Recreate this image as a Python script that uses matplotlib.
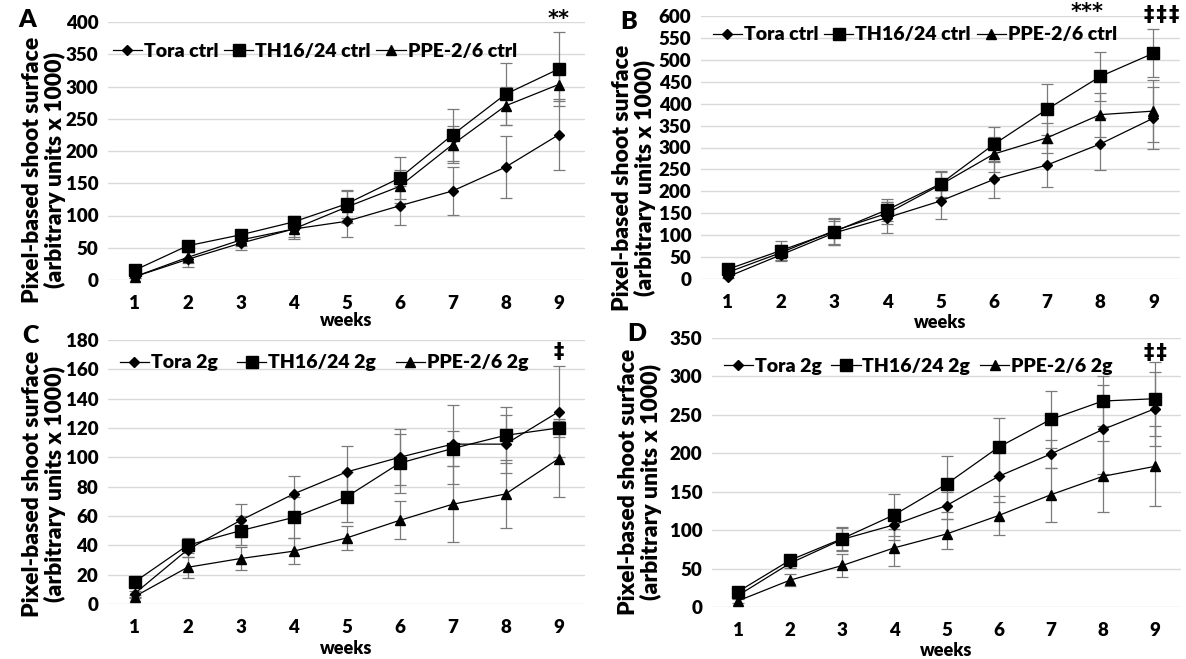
import matplotlib
matplotlib.use("Agg")
import matplotlib.pyplot as plt
import numpy as np

plt.rcParams["font.family"] = ["Lato", "DejaVu Sans"]
plt.rcParams["font.weight"] = "bold"

weeks = np.arange(1, 10)

# Panel A: controls
a_tora = [5, 32, 57, 79, 91, 115, 138, 175, 225]
a_tora_err = [2, 12, 10, 15, 25, 30, 37, 48, 55]
a_th = [15, 53, 70, 90, 118, 158, 225, 288, 327]
a_th_err = [3, 5, 8, 10, 22, 32, 40, 48, 58]
a_ppe = [5, 35, 62, 79, 113, 145, 210, 270, 303]
a_ppe_err = [2, 8, 10, 12, 25, 25, 28, 30, 25]

# Panel B: controls
b_tora = [5, 55, 105, 140, 178, 227, 260, 308, 367]
b_tora_err = [3, 12, 28, 35, 40, 42, 50, 60, 70]
b_th = [22, 65, 108, 158, 217, 307, 387, 462, 515]
b_th_err = [5, 22, 30, 25, 30, 40, 58, 55, 55]
b_ppe = [15, 60, 110, 150, 215, 285, 322, 375, 383]
b_ppe_err = [4, 18, 30, 25, 30, 40, 35, 50, 70]

# Panel C: 2g
c_tora = [7, 37, 57, 75, 90, 100, 109, 109, 131]
c_tora_err = [2, 5, 11, 12, 18, 19, 27, 20, 31]
c_th = [15, 40, 50, 59, 73, 96, 106, 115, 120]
c_th_err = [2, 5, 10, 14, 17, 20, 12, 19, 6]
c_ppe = [5, 25, 31, 36, 45, 57, 68, 75, 99]
c_ppe_err = [1, 7, 8, 9, 8, 13, 26, 23, 26]

# Panel D: 2g
d_tora = [15, 57, 88, 107, 132, 170, 199, 231, 258]
d_tora_err = [3, 6, 15, 20, 18, 34, 18, 58, 48]
d_th = [20, 61, 89, 120, 160, 208, 244, 268, 271]
d_th_err = [3, 7, 15, 27, 37, 38, 37, 33, 48]
d_ppe = [8, 35, 54, 77, 95, 119, 146, 170, 183]
d_ppe_err = [3, 8, 15, 24, 19, 25, 35, 46, 52]

ctrl_names = ["Tora ctrl", "TH16/24 ctrl", "PPE-2/6 ctrl"]
g2_names = ["Tora 2g", "TH16/24 2g", "PPE-2/6 2g"]

W, H = 1186, 659
fig = plt.figure(figsize=(W / 100, H / 100), dpi=100)


def px_axes(left, right, top, bottom):
    return fig.add_axes([left / W, 1 - bottom / H, (right - left) / W, (bottom - top) / H])


DD = "\u2021"
HS = "\u200a"  # hair space so the daggers do not run together

# significance notes: (text, x in data, y in data)
panels = [
    dict(box=(108, 585, 22, 280), ymax=400, step=50, names=ctrl_names,
         data=[(a_tora, a_tora_err), (a_th, a_th_err), (a_ppe, a_ppe_err)],
         letter="A", lpos=(18, 20),
         notes=[("**", 9, 404)],
         ylab=(44, 170), weeks_y=321, leg=(-0.015, 0.965), colsp=0.3),
    dict(box=(701, 1180, 16, 279), ymax=600, step=50, names=ctrl_names,
         data=[(b_tora, b_tora_err), (b_th, b_th_err), (b_ppe, b_ppe_err)],
         letter="B", lpos=(620, 22),
         notes=[("***", 7.75, 608), (HS.join([DD] * 3), 9.15, 602)],
         ylab=(634, 178), weeks_y=323, leg=(-0.0, 1.005), colsp=0.3),
    dict(box=(108, 585, 340, 604), ymax=180, step=20, names=g2_names,
         data=[(c_tora, c_tora_err), (c_th, c_th_err), (c_ppe, c_ppe_err)],
         letter="C", lpos=(22, 336),
         notes=[(DD, 9, 172)],
         ylab=(44, 484), weeks_y=648, leg=(0.0, 0.99), colsp=1.0),
    dict(box=(712, 1181, 338, 607), ymax=350, step=50, names=g2_names,
         data=[(d_tora, d_tora_err), (d_th, d_th_err), (d_ppe, d_ppe_err)],
         letter="D", lpos=(627, 334),
         notes=[(HS.join([DD] * 2), 9, 331)],
         ylab=(640, 482), weeks_y=650, leg=(0.0, 0.97), colsp=0.5),
]

markers = ["D", "s", "^"]
msizes = [5.5, 8, 7.5]

for p in panels:
    ax = px_axes(*p["box"])
    for (vals, err), m, ms, name in zip(p["data"], markers, msizes, p["names"]):
        ax.errorbar(weeks, vals, yerr=err, fmt="none", ecolor="#7a7a7a",
                    elinewidth=0.9, capsize=4, capthick=0.9, zorder=2, clip_on=False)
        ax.plot(weeks, vals, color="black", lw=0.9, marker=m, markersize=ms,
                markerfacecolor="black", markeredgecolor="black", label=name,
                zorder=3, clip_on=False)
    ax.set_xlim(0.5, 9.5)
    ax.set_ylim(0, p["ymax"])
    ax.set_yticks(np.arange(0, p["ymax"] + 1, p["step"]))
    ax.set_xticks(weeks)
    ax.grid(axis="y", color="#d9d9d9", lw=1)
    ax.set_axisbelow(True)
    for s in ax.spines.values():
        s.set_visible(False)
    ax.tick_params(axis="x", length=0, labelsize=13.5, pad=11)
    ax.tick_params(axis="y", length=0, labelsize=13.5, pad=7)
    for t in ax.get_xticklabels() + ax.get_yticklabels():
        t.set_fontweight("heavy")
    cx = (p["box"][0] + p["box"][1]) / 2
    fig.text(cx / W, 1 - p["weeks_y"] / H, "weeks", ha="center", va="center",
             fontsize=13, fontweight="heavy")
    fig.text(p["ylab"][0] / W, 1 - p["ylab"][1] / H,
             "Pixel-based shoot surface\n(arbitrary units x 1000)",
             rotation=90, ha="center", va="center", fontsize=16.5,
             fontweight="heavy", linespacing=1.0)
    fig.text(p["lpos"][0] / W, 1 - p["lpos"][1] / H, p["letter"], fontsize=18,
             fontweight="heavy", ha="left", va="center")
    for txt, nx, ny in p["notes"]:
        ax.text(nx, ny, txt, ha="center", va="center", fontsize=15,
                fontweight="bold", clip_on=False, family=["DejaVu Sans"])
    ax.legend(loc="upper left", bbox_to_anchor=p["leg"], ncol=3, frameon=False,
              handlelength=1.5, handletextpad=0.1, columnspacing=p["colsp"],
              borderaxespad=0.2, prop={"weight": "heavy", "size": 14})

fig.savefig("out.png", dpi=100)
